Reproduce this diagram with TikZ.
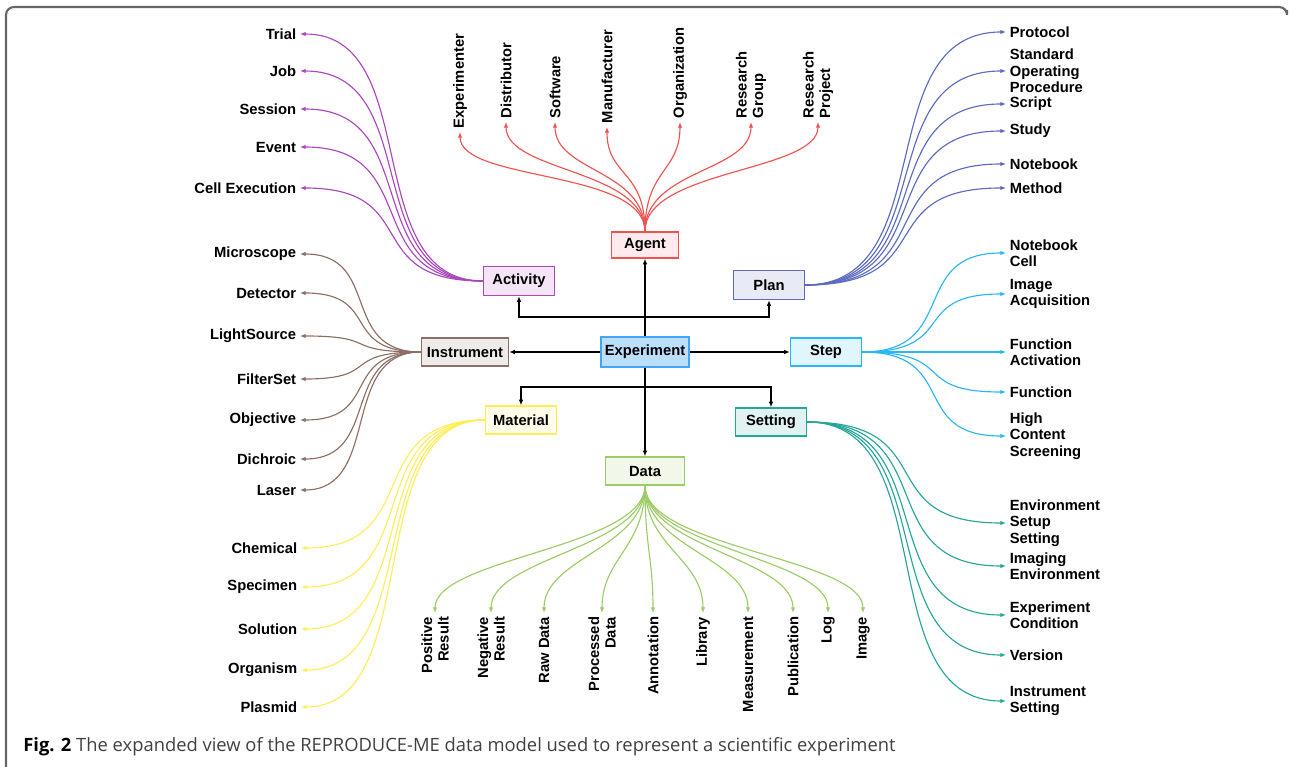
\documentclass[tikz,border=0pt]{standalone}
\usepackage{fontspec}
\setmainfont{Liberation Sans}
\newfontfamily\capfont{Open Sans}
\usepackage{xcolor}
\usetikzlibrary{arrows.meta}

\definecolor{expc}{HTML}{42A5F5}
\definecolor{expfill}{HTML}{BBDEFB}
\definecolor{agentc}{HTML}{EF5350}
\definecolor{agentfill}{HTML}{FFEBEE}
\definecolor{activityc}{HTML}{AB47BC}
\definecolor{activityfill}{HTML}{F3E5F5}
\definecolor{planc}{HTML}{5C6BC0}
\definecolor{planfill}{HTML}{E8EAF6}
\definecolor{instrc}{HTML}{8D6E63}
\definecolor{instrfill}{HTML}{EFEBE9}
\definecolor{stepc}{HTML}{29B6F6}
\definecolor{stepfill}{HTML}{E1F5FE}
\definecolor{materialc}{HTML}{FFEE58}
\definecolor{materialfill}{HTML}{FFFDE7}
\definecolor{settingc}{HTML}{26A69A}
\definecolor{settingfill}{HTML}{E0F2F1}
\definecolor{datac}{HTML}{9CCC65}
\definecolor{datafill}{HTML}{F1F8E9}

\begin{document}
\begin{tikzpicture}[x=0.02cm,y=-0.02cm,
  >={Latex[length=3.2pt,width=2.6pt]},
  box/.style={draw,line width=0.8pt,minimum width=1.42cm,minimum height=0.56cm,inner sep=1pt,font=\bfseries\fontsize{8.4}{9.4}\selectfont},
  leaf/.style={inner sep=2pt,font=\bfseries\fontsize{8.4}{9.4}\selectfont},
  fan/.style={->,line width=0.65pt},
  link/.style={->,line width=0.9pt}]
\useasboundingbox (0,0) rectangle (1289,767);
\draw[black!60,line width=1.2pt,rounded corners=4.5pt] (6,767) -- (6,7) -- (1287,7) -- (1287,10);

% central boxes
\node[box,fill=expfill,draw=expc,minimum width=1.76cm,minimum height=0.6cm] (experiment) at (645,352) {Experiment};
\node[box,fill=agentfill,draw=agentc,minimum width=1.34cm,minimum height=0.52cm] (agent) at (645,245) {Agent};
\node[box,fill=activityfill,draw=activityc,minimum height=0.58cm] (activity) at (519,281) {Activity};
\node[box,fill=planfill,draw=planc,minimum height=0.58cm] (plan) at (769,285) {Plan};
\node[box,fill=instrfill,draw=instrc,minimum width=1.74cm] (instrument) at (465,352) {Instrument};
\node[box,fill=stepfill,draw=stepc] (step) at (826,352) {Step};
\node[box,fill=materialfill,draw=materialc] (material) at (521,420) {Material};
\node[box,fill=settingfill,draw=settingc] (setting) at (771,422) {Setting};
\node[box,fill=datafill,draw=datac,minimum width=1.58cm] (data) at (645,471) {Data};

\coordinate (upjoin) at (645,317);
\coordinate (downjoin) at (645,387);
\draw[link] (experiment) -- (agent);
\draw[link] (upjoin) -| (activity.south);
\draw[link] (upjoin) -| (plan.south);
\draw[link] (experiment) -- (instrument);
\draw[link] (experiment) -- (step);
\draw[link] (downjoin) -| (material.north);
\draw[link] (downjoin) -| (setting.north);
\draw[link] (experiment) -- (data);

% agent
\node[leaf,rotate=90,anchor=west] (experimenter) at (460,132) {Experimenter};
\node[leaf,rotate=90,anchor=west] (distributor) at (506,122) {Distributor};
\node[leaf,rotate=90,anchor=west] (software) at (555,122) {Software};
\node[leaf,rotate=90,anchor=west] (manufacturer) at (607,127) {Manufacturer};
\node[leaf,rotate=90,anchor=west] (organization) at (680,122) {Organization};
\node[leaf,rotate=90,anchor=west,align=left] (resgroup) at (751,122) {Research\\Group};
\node[leaf,rotate=90,anchor=west,align=left] (resproject) at (818,122) {Research\\Project};
\draw[fan,agentc] (agent.north) .. controls +(0,-62) and +(0,50) .. (experimenter.west);
\draw[fan,agentc] (agent.north) .. controls +(0,-62) and +(0,50) .. (distributor.west);
\draw[fan,agentc] (agent.north) .. controls +(0,-62) and +(0,50) .. (software.west);
\draw[fan,agentc] (agent.north) .. controls +(0,-62) and +(0,50) .. (manufacturer.west);
\draw[fan,agentc] (agent.north) .. controls +(0,-62) and +(0,50) .. (organization.west);
\draw[fan,agentc] (agent.north) .. controls +(0,-62) and +(0,50) .. (resgroup.west);
\draw[fan,agentc] (agent.north) .. controls +(0,-62) and +(0,50) .. (resproject.west);

% activity
\node[leaf,anchor=east] (trial) at (300,34) {Trial};
\node[leaf,anchor=east] (job) at (300,71) {Job};
\node[leaf,anchor=east] (session) at (300,109) {Session};
\node[leaf,anchor=east] (event) at (300,147) {Event};
\node[leaf,anchor=east] (cellexec) at (300,188) {Cell Execution};
\draw[fan,activityc] (activity.west) .. controls +(-125,0) and +(125,0) .. (trial.east);
\draw[fan,activityc] (activity.west) .. controls +(-125,0) and +(125,0) .. (job.east);
\draw[fan,activityc] (activity.west) .. controls +(-125,0) and +(125,0) .. (session.east);
\draw[fan,activityc] (activity.west) .. controls +(-125,0) and +(125,0) .. (event.east);
\draw[fan,activityc] (activity.west) .. controls +(-125,0) and +(125,0) .. (cellexec.east);

% instrument
\node[leaf,anchor=east] (microscope) at (300,254) {Microscope};
\node[leaf,anchor=east] (detector) at (300,293) {Detector};
\node[leaf,anchor=east] (lightsource) at (300,336) {LightSource};
\node[leaf,anchor=east] (filterset) at (300,379) {FilterSet};
\node[leaf,anchor=east] (objective) at (300,420) {Objective};
\node[leaf,anchor=east] (dichroic) at (300,459) {Dichroic};
\node[leaf,anchor=east] (laser) at (300,490) {Laser};
\draw[fan,instrc] (instrument.west) .. controls +(-82,0) and +(82,0) .. (microscope.east);
\draw[fan,instrc] (instrument.west) .. controls +(-82,0) and +(82,0) .. (detector.east);
\draw[fan,instrc] (instrument.west) .. controls +(-82,0) and +(82,0) .. (lightsource.east);
\draw[fan,instrc] (instrument.west) .. controls +(-82,0) and +(82,0) .. (filterset.east);
\draw[fan,instrc] (instrument.west) .. controls +(-82,0) and +(82,0) .. (objective.east);
\draw[fan,instrc] (instrument.west) .. controls +(-82,0) and +(82,0) .. (dichroic.east);
\draw[fan,instrc] (instrument.west) .. controls +(-82,0) and +(82,0) .. (laser.east);

% material
\node[leaf,anchor=east] (chemical) at (301,548) {Chemical};
\node[leaf,anchor=east] (specimen) at (301,587) {Specimen};
\node[leaf,anchor=east] (solution) at (301,629) {Solution};
\node[leaf,anchor=east] (organism) at (301,670) {Organism};
\node[leaf,anchor=east] (plasmid) at (301,707) {Plasmid};
\draw[fan,materialc] (material.west) .. controls +(-125,0) and +(125,0) .. (chemical.east);
\draw[fan,materialc] (material.west) .. controls +(-125,0) and +(125,0) .. (specimen.east);
\draw[fan,materialc] (material.west) .. controls +(-125,0) and +(125,0) .. (solution.east);
\draw[fan,materialc] (material.west) .. controls +(-125,0) and +(125,0) .. (organism.east);
\draw[fan,materialc] (material.west) .. controls +(-125,0) and +(125,0) .. (plasmid.east);

% plan
\node[leaf,anchor=west] (protocol) at (1006,32) {Protocol};
\node[leaf,anchor=west,align=left] (sop) at (1006,71) {Standard\\Operating\\Procedure};
\node[leaf,anchor=west] (script) at (1006,104) {Script};
\node[leaf,anchor=west] (study) at (1006,131) {Study};
\node[leaf,anchor=west] (notebook) at (1006,164) {Notebook};
\node[leaf,anchor=west] (method) at (1006,188) {Method};
\draw[fan,planc] (plan.east) .. controls +(138,0) and +(-138,0) .. (protocol.west);
\draw[fan,planc] (plan.east) .. controls +(138,0) and +(-138,0) .. (sop.west);
\draw[fan,planc] (plan.east) .. controls +(138,0) and +(-138,0) .. (script.west);
\draw[fan,planc] (plan.east) .. controls +(138,0) and +(-138,0) .. (study.west);
\draw[fan,planc] (plan.east) .. controls +(138,0) and +(-138,0) .. (notebook.west);
\draw[fan,planc] (plan.east) .. controls +(138,0) and +(-138,0) .. (method.west);

% step
\node[leaf,anchor=west,align=left] (nbcell) at (1006,253) {Notebook\\Cell};
\node[leaf,anchor=west,align=left] (imgacq) at (1006,294) {Image\\Acquisition};
\node[leaf,anchor=west,align=left] (funcact) at (1006,352) {Function\\Activation};
\node[leaf,anchor=west] (function) at (1006,392) {Function};
\node[leaf,anchor=west,align=left] (hcs) at (1006,436) {High\\Content\\Screening};
\draw[fan,stepc] (step.east) .. controls +(98,0) and +(-98,0) .. (nbcell.west);
\draw[fan,stepc] (step.east) .. controls +(98,0) and +(-98,0) .. (imgacq.west);
\draw[fan,stepc] (step.east) -- (funcact.west);
\draw[fan,stepc] (step.east) .. controls +(98,0) and +(-98,0) .. (function.west);
\draw[fan,stepc] (step.east) .. controls +(98,0) and +(-98,0) .. (hcs.west);

% setting
\node[leaf,anchor=west,align=left] (envsetup) at (1006,523) {Environment\\Setup\\Setting};
\node[leaf,anchor=west,align=left] (imgenv) at (1006,566) {Imaging\\Environment};
\node[leaf,anchor=west,align=left] (expcond) at (1006,615) {Experiment\\Condition};
\node[leaf,anchor=west] (version) at (1006,655) {Version};
\node[leaf,anchor=west,align=left] (instset) at (1006,701) {Instrument\\Setting};
\draw[fan,settingc] (setting.east) .. controls +(138,0) and +(-138,0) .. (envsetup.west);
\draw[fan,settingc] (setting.east) .. controls +(138,0) and +(-138,0) .. (imgenv.west);
\draw[fan,settingc] (setting.east) .. controls +(138,0) and +(-138,0) .. (expcond.west);
\draw[fan,settingc] (setting.east) .. controls +(138,0) and +(-138,0) .. (version.west);
\draw[fan,settingc] (setting.east) .. controls +(138,0) and +(-138,0) .. (instset.west);

% data
\node[leaf,rotate=90,anchor=east,align=right] (posresult) at (435,613) {Positive\\Result};
\node[leaf,rotate=90,anchor=east,align=right] (negresult) at (491,613) {Negative\\Result};
\node[leaf,rotate=90,anchor=east] (rawdata) at (544,613) {Raw Data};
\node[leaf,rotate=90,anchor=east,align=right] (procdata) at (602,613) {Processed\\Data};
\node[leaf,rotate=90,anchor=east] (annotation) at (653,613) {Annotation};
\node[leaf,rotate=90,anchor=east] (library) at (703,613) {Library};
\node[leaf,rotate=90,anchor=east] (measurement) at (748,613) {Measurement};
\node[leaf,rotate=90,anchor=east] (publication) at (793,613) {Publication};
\node[leaf,rotate=90,anchor=east] (log) at (828,613) {Log};
\node[leaf,rotate=90,anchor=east] (image) at (863,613) {Image};
\draw[fan,datac] (data.south) .. controls +(0,62) and +(0,-55) .. (posresult.east);
\draw[fan,datac] (data.south) .. controls +(0,62) and +(0,-55) .. (negresult.east);
\draw[fan,datac] (data.south) .. controls +(0,62) and +(0,-55) .. (rawdata.east);
\draw[fan,datac] (data.south) .. controls +(0,62) and +(0,-55) .. (procdata.east);
\draw[fan,datac] (data.south) .. controls +(0,62) and +(0,-55) .. (annotation.east);
\draw[fan,datac] (data.south) .. controls +(0,62) and +(0,-55) .. (library.east);
\draw[fan,datac] (data.south) .. controls +(0,62) and +(0,-55) .. (measurement.east);
\draw[fan,datac] (data.south) .. controls +(0,62) and +(0,-55) .. (publication.east);
\draw[fan,datac] (data.south) .. controls +(0,62) and +(0,-55) .. (log.east);
\draw[fan,datac] (data.south) .. controls +(0,62) and +(0,-55) .. (image.east);

\node[anchor=base west,inner sep=0pt,text=black!75,font=\capfont\fontsize{10.45}{12}\selectfont] (caption) at (23,751) {{\color{black}\bfseries Fig. 2} The expanded view of the REPRODUCE-ME data model used to represent a scientific experiment};
\end{tikzpicture}
\end{document}
